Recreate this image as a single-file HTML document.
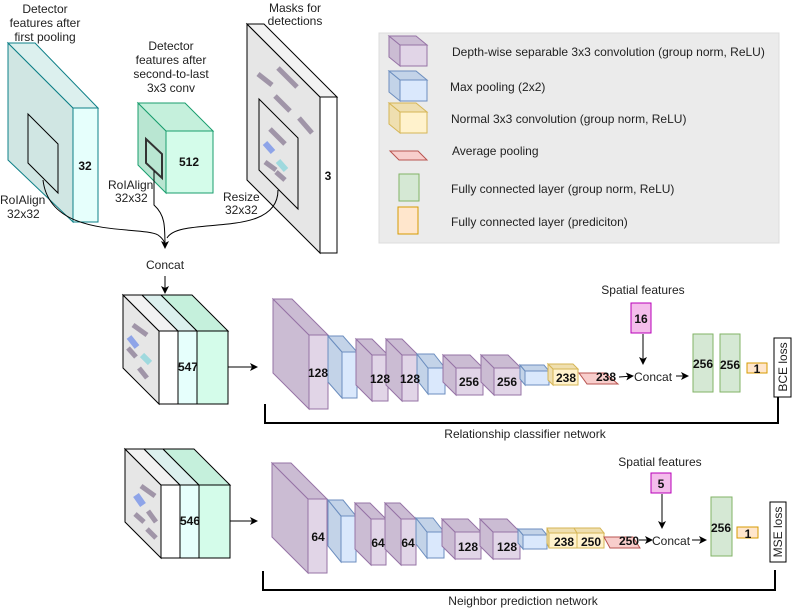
<!DOCTYPE html>
<html><head><meta charset="utf-8"><style>
body{margin:0;background:#fff}
svg{display:block;font-family:"Liberation Sans",sans-serif}
.t{font-size:12px;fill:#222}
.b{font-size:12px;font-weight:bold;fill:#111}
.P{stroke:#9673a6}.Pf{fill:#e1d5e7}.Ps{fill:#cbbcd3}
</style></head><body>
<svg width="792" height="611" viewBox="0 0 792 611" xmlns="http://www.w3.org/2000/svg">
<defs><marker id="ar" markerWidth="8" markerHeight="8" refX="7" refY="4" orient="auto" markerUnits="userSpaceOnUse"><path d="M0,0 L8,4 L0,8 L2,4 z" fill="#000"/></marker></defs>

<!-- Top: cyan block -->
<polygon points="8,43 73,108 73,222 8,160" fill="#d0e6e3" stroke="#0e8088"/>
<polygon points="8,43 35,43 98,108 73,108" fill="#dcf0ee" stroke="#0e8088"/>
<rect x="73" y="108" width="25" height="114" fill="#e6fffc" stroke="#0e8088"/>
<polygon points="28,114 58,144 58,193 28,163" fill="none" stroke="#000"/>
<text class="b" x="85" y="170" text-anchor="middle">32</text>
<text class="t" text-anchor="middle" x="45" y="13">Detector</text>
<text class="t" text-anchor="middle" x="45" y="27">features after</text>
<text class="t" text-anchor="middle" x="45" y="41">first pooling</text>

<!-- middle green block -->
<polygon points="138,103 166,131 166,193 138,165" fill="#b9e6d2" stroke="#1a9e6e"/>
<polygon points="138,103 185,103 213,131 166,131" fill="#c5f0dc" stroke="#1a9e6e"/>
<rect x="166" y="131" width="47" height="62" fill="#d4fcea" stroke="#1a9e6e"/>
<polygon points="146,139 162,154 162,178 146,163" fill="none" stroke="#333" stroke-width="2"/>
<text class="b" x="189" y="166" text-anchor="middle">512</text>
<text class="t" text-anchor="middle" x="171" y="50">Detector</text>
<text class="t" text-anchor="middle" x="171" y="64">features after</text>
<text class="t" text-anchor="middle" x="171" y="78">second-to-last</text>
<text class="t" text-anchor="middle" x="171" y="92">3x3 conv</text>

<!-- masks -->
<polygon points="247,24 320,97 320,253 247,180" fill="#e6e6e6" stroke="#000"/>
<polygon points="247,24 264,24 337,97 320,97" fill="#f2f2f2" stroke="#000"/>
<rect x="320" y="97" width="17" height="156" fill="#fff" stroke="#000"/>
<polygon points="259,99 298,138 298,209 259,170" fill="none" stroke="#000"/>
<g stroke="#a095a8" stroke-width="5">
<line x1="258" y1="74" x2="272" y2="85"/><line x1="278" y1="68" x2="297" y2="87"/>
<line x1="275" y1="96" x2="290" y2="111"/><line x1="299" y1="118" x2="312" y2="133"/>
<line x1="270" y1="129" x2="285" y2="144"/><line x1="265" y1="162" x2="276" y2="170"/>
<line x1="276" y1="172" x2="285" y2="180"/></g>
<line x1="265" y1="143" x2="273" y2="152" stroke="#8ea4e8" stroke-width="6"/>
<line x1="278" y1="161" x2="286" y2="170" stroke="#9fd9de" stroke-width="6"/>
<text class="b" x="328" y="180" text-anchor="middle">3</text>
<text class="t" text-anchor="middle" x="295" y="12">Masks for</text>
<text class="t" text-anchor="middle" x="295" y="25">detections</text>

<text class="t" x="0" y="204">RoIAlign</text><text class="t" x="7" y="218">32x32</text>
<text class="t" x="108" y="189">RoIAlign</text><text class="t" x="115" y="202">32x32</text>
<text class="t" x="223" y="201">Resize</text><text class="t" x="225" y="214">32x32</text>

<g fill="none" stroke="#000">
<path d="M43,180 C50,240 140,225 158,235 C165,240 165,244 165,248" marker-end="url(#ar)"/>
<path d="M154,171 L154,205 C165,215 165,225 165,248"/>
<path d="M278,190 C278,240 180,215 167,238"/>
<line x1="165" y1="276" x2="165" y2="293" marker-end="url(#ar)"/>
</g>
<text class="t" x="146" y="269">Concat</text>

<!-- legend -->
<rect x="379" y="33" width="400" height="210" fill="#ebebeb" stroke="#ddd"/>
<polygon points="389,36 400,45 400,66 389,57" class="Ps P"/><polygon points="389,36 416,36 427,45 400,45" class="Ps P"/><rect x="400" y="45" width="27" height="21" class="Pf P"/>
<polygon points="389,71 400,80 400,101 389,92" fill="#c3d3e8" stroke="#6c8ebf"/><polygon points="389,71 416,71 427,80 400,80" fill="#c3d3e8" stroke="#6c8ebf"/><rect x="400" y="80" width="27" height="21" fill="#dae8fc" stroke="#6c8ebf"/>
<polygon points="389,103 400,112 400,133 389,124" fill="#efdfb0" stroke="#d6b656"/><polygon points="389,103 416,103 427,112 400,112" fill="#efdfb0" stroke="#d6b656"/><rect x="400" y="112" width="27" height="21" fill="#fff2cc" stroke="#d6b656"/>
<polygon points="390,151 418,151 427,160 399,160" fill="#f8cecc" stroke="#b85450"/>
<rect x="399" y="174" width="20" height="27" fill="#d5e8d4" stroke="#82b366"/>
<rect x="398" y="207" width="20" height="27" fill="#ffe6cc" stroke="#d79b00"/>
<text class="t" x="452" y="56">Depth-wise separable 3x3 convolution  (group norm, ReLU)</text>
<text class="t" x="450" y="91">Max pooling (2x2)</text>
<text class="t" x="451" y="123">Normal 3x3 convolution (group norm, ReLU)</text>
<text class="t" x="452" y="155">Average pooling</text>
<text class="t" x="451" y="193">Fully connected layer (group norm, ReLU)</text>
<text class="t" x="451" y="226">Fully connected layer (prediciton)</text>

<!-- Relationship input block -->
<polygon points="123,295 159,331 159,404 123,368" fill="#e6e6e6" stroke="#000"/>
<polygon points="123,295 142,295 178,331 159,331" fill="#f2f2f2" stroke="#000"/>
<polygon points="142,295 161,295 197,331 178,331" fill="#dcf0ee" stroke="#000"/>
<polygon points="161,295 192,295 228,331 197,331" fill="#c5f0dc" stroke="#000"/>
<rect x="159" y="331" width="19" height="73" fill="#fff" stroke="#000"/>
<rect x="178" y="331" width="19" height="73" fill="#e6fffc" stroke="#000"/>
<rect x="197" y="331" width="31" height="73" fill="#d4fcea" stroke="#000"/>
<g stroke="#a095a8" stroke-width="5"><line x1="133" y1="325" x2="147" y2="335"/><line x1="128" y1="348" x2="136" y2="357"/><line x1="139" y1="368" x2="147" y2="378"/></g>
<line x1="129" y1="337" x2="137" y2="347" stroke="#8ea4e8" stroke-width="6"/>
<line x1="142" y1="355" x2="150" y2="363" stroke="#9fd9de" stroke-width="6"/>
<text class="b" x="188" y="371" text-anchor="middle">547</text>
<line x1="228" y1="367" x2="257" y2="367" stroke="#000" marker-end="url(#ar)"/>

<!-- Relationship network boxes -->
<g class="P">
<polygon points="273,299 309,335 309,409 273,373" class="Ps"/><polygon points="273,299 292,299 328,335 309,335" class="Ps"/><rect x="309" y="335" width="19" height="74" class="Pf"/>
</g>
<g stroke="#6c8ebf"><polygon points="328,336 342,352 342,398 328,382" fill="#c3d3e8"/><polygon points="328,336 343,336 357,352 342,352" fill="#c3d3e8"/><rect x="342" y="352" width="15" height="46" fill="#dae8fc"/></g>
<g class="P">
<polygon points="356,339 372,355 372,401 356,385" class="Ps"/><polygon points="356,339 372,339 388,355 372,355" class="Ps"/><rect x="372" y="355" width="16" height="46" class="Pf"/>
<polygon points="386,339 402,355 402,401 386,385" class="Ps"/><polygon points="386,339 402,339 418,355 402,355" class="Ps"/><rect x="402" y="355" width="16" height="46" class="Pf"/>
</g>
<g stroke="#6c8ebf"><polygon points="417,354 428,368 428,394 417,380" fill="#c3d3e8"/><polygon points="417,354 434,354 445,368 428,368" fill="#c3d3e8"/><rect x="428" y="368" width="17" height="26" fill="#dae8fc"/></g>
<g class="P">
<polygon points="443,355 456,368 456,395 443,382" class="Ps"/><polygon points="443,355 470,355 483,368 456,368" class="Ps"/><rect x="456" y="368" width="27" height="27" class="Pf"/>
<polygon points="481,355 494,368 494,395 481,382" class="Ps"/><polygon points="481,355 508,355 521,368 494,368" class="Ps"/><rect x="494" y="368" width="27" height="27" class="Pf"/>
</g>
<g stroke="#6c8ebf"><polygon points="520,365 525,371 525,385 520,379" fill="#c3d3e8"/><polygon points="520,365 544,365 549,371 525,371" fill="#c3d3e8"/><rect x="525" y="371" width="24" height="14" fill="#dae8fc"/></g>
<g stroke="#d6b656"><polygon points="548,364 553,369 553,385 548,380" fill="#efdfb0"/><polygon points="548,364 573,364 578,369 553,369" fill="#efdfb0"/><rect x="553" y="369" width="25" height="16" fill="#fff2cc"/></g>
<polygon points="579,373 605,373 618,384 587,384" fill="#f8cecc" stroke="#b85450"/>
<text class="b" x="318" y="377" text-anchor="middle">128</text>
<text class="b" x="380" y="383" text-anchor="middle">128</text>
<text class="b" x="410" y="383" text-anchor="middle">128</text>
<text class="b" x="469" y="386" text-anchor="middle">256</text>
<text class="b" x="507" y="386" text-anchor="middle">256</text>
<text class="b" x="566" y="382" text-anchor="middle">238</text>
<text class="b" x="606" y="381" text-anchor="middle">238</text>
<line x1="619" y1="377" x2="633" y2="376" stroke="#000" marker-end="url(#ar)"/>
<text class="t" x="634" y="381">Concat</text>
<line x1="676" y1="376" x2="688" y2="376" stroke="#000" marker-end="url(#ar)"/>
<text class="t" x="643" y="294" text-anchor="middle">Spatial features</text>
<rect x="631" y="303" width="20" height="30" fill="#f4bdeb" stroke="#b800b8"/>
<text class="b" x="641" y="323" text-anchor="middle">16</text>
<line x1="643" y1="334" x2="643" y2="364" stroke="#000" marker-end="url(#ar)"/>
<rect x="693" y="334" width="20" height="58" fill="#d5e8d4" stroke="#82b366"/>
<rect x="720" y="334" width="20" height="58" fill="#d5e8d4" stroke="#82b366"/>
<text class="b" x="703" y="368" text-anchor="middle">256</text>
<text class="b" x="730" y="369" text-anchor="middle">256</text>
<rect x="747" y="363" width="20" height="10" fill="#ffe6cc" stroke="#d79b00"/>
<text class="b" x="757" y="373" text-anchor="middle">1</text>
<rect x="774" y="338" width="17" height="59" fill="#fff" stroke="#000"/>
<text class="t" transform="translate(787,367) rotate(-90)" text-anchor="middle">BCE loss</text>
<polyline points="265,404 265,423 778,423 778,397" fill="none" stroke="#000" stroke-width="2"/>
<text class="t" x="525" y="438" text-anchor="middle">Relationship classifier network</text>

<!-- Neighbor input block -->
<polygon points="125,449 161,485 161,558 125,522" fill="#e6e6e6" stroke="#000"/>
<polygon points="125,449 144,449 180,485 161,485" fill="#f2f2f2" stroke="#000"/>
<polygon points="144,449 163,449 199,485 180,485" fill="#dcf0ee" stroke="#000"/>
<polygon points="163,449 194,449 230,485 199,485" fill="#c5f0dc" stroke="#000"/>
<rect x="161" y="485" width="19" height="73" fill="#fff" stroke="#000"/>
<rect x="180" y="485" width="19" height="73" fill="#e6fffc" stroke="#000"/>
<rect x="199" y="485" width="31" height="73" fill="#d4fcea" stroke="#000"/>
<g stroke="#a095a8" stroke-width="5"><line x1="141" y1="486" x2="155" y2="496"/><line x1="135" y1="514" x2="144" y2="522"/><line x1="148" y1="511" x2="156" y2="522"/><line x1="147" y1="529" x2="156" y2="538"/></g>
<line x1="136" y1="495" x2="143" y2="505" stroke="#8ea4e8" stroke-width="7"/>
<text class="b" x="190" y="525" text-anchor="middle">546</text>
<line x1="230" y1="521" x2="257" y2="521" stroke="#000" marker-end="url(#ar)"/>

<g class="P">
<polygon points="272,463 308,499 308,573 272,537" class="Ps"/><polygon points="272,463 291,463 327,499 308,499" class="Ps"/><rect x="308" y="499" width="19" height="74" class="Pf"/>
</g>
<g stroke="#6c8ebf"><polygon points="328,500 341,516 341,562 328,546" fill="#c3d3e8"/><polygon points="328,500 343,500 356,516 341,516" fill="#c3d3e8"/><rect x="341" y="516" width="15" height="46" fill="#dae8fc"/></g>
<g class="P">
<polygon points="355,503 371,519 371,565 355,549" class="Ps"/><polygon points="355,503 370,503 386,519 371,519" class="Ps"/><rect x="371" y="519" width="15" height="46" class="Pf"/>
<polygon points="385,503 401,519 401,565 385,549" class="Ps"/><polygon points="385,503 400,503 416,519 401,519" class="Ps"/><rect x="401" y="519" width="15" height="46" class="Pf"/>
</g>
<g stroke="#6c8ebf"><polygon points="416,518 427,532 427,558 416,544" fill="#c3d3e8"/><polygon points="416,518 433,518 444,532 427,532" fill="#c3d3e8"/><rect x="427" y="532" width="17" height="26" fill="#dae8fc"/></g>
<g class="P">
<polygon points="442,519 455,532 455,559 442,546" class="Ps"/><polygon points="442,519 468,519 481,532 455,532" class="Ps"/><rect x="455" y="532" width="26" height="27" class="Pf"/>
<polygon points="480,519 493,532 493,559 480,546" class="Ps"/><polygon points="480,519 507,519 520,532 493,532" class="Ps"/><rect x="493" y="532" width="27" height="27" class="Pf"/>
</g>
<g stroke="#6c8ebf"><polygon points="518,529 523,535 523,549 518,543" fill="#c3d3e8"/><polygon points="518,529 542,529 547,535 523,535" fill="#c3d3e8"/><rect x="523" y="535" width="24" height="14" fill="#dae8fc"/></g>
<g stroke="#d6b656"><polygon points="547,528 549,533 549,548 547,543" fill="#efdfb0"/><polygon points="547,528 574,528 577,533 549,533" fill="#efdfb0"/><rect x="549" y="533" width="28" height="15" fill="#fff2cc"/>
<polygon points="574,528 600,528 604,533 577,533" fill="#efdfb0"/><rect x="577" y="533" width="27" height="15" fill="#fff2cc"/></g>
<polygon points="604,537 633,537 640,548 610,548" fill="#f8cecc" stroke="#b85450"/>
<text class="b" x="318" y="541" text-anchor="middle">64</text>
<text class="b" x="378" y="547" text-anchor="middle">64</text>
<text class="b" x="408" y="547" text-anchor="middle">64</text>
<text class="b" x="468" y="551" text-anchor="middle">128</text>
<text class="b" x="507" y="551" text-anchor="middle">128</text>
<text class="b" x="564" y="546" text-anchor="middle">238</text>
<text class="b" x="591" y="546" text-anchor="middle">250</text>
<text class="b" x="629" y="545" text-anchor="middle">250</text>
<line x1="639" y1="540" x2="652" y2="540" stroke="#000" marker-end="url(#ar)"/>
<text class="t" x="652" y="545">Concat</text>
<line x1="692" y1="540" x2="706" y2="540" stroke="#000" marker-end="url(#ar)"/>
<text class="t" x="660" y="466" text-anchor="middle">Spatial features</text>
<rect x="651" y="473" width="20" height="20" fill="#f4bdeb" stroke="#b800b8"/>
<text class="b" x="661" y="488" text-anchor="middle">5</text>
<line x1="662" y1="494" x2="662" y2="528" stroke="#000" marker-end="url(#ar)"/>
<rect x="711" y="497" width="21" height="59" fill="#d5e8d4" stroke="#82b366"/>
<text class="b" x="721" y="532" text-anchor="middle">256</text>
<rect x="737" y="527" width="21" height="11" fill="#ffe6cc" stroke="#d79b00"/>
<text class="b" x="748" y="538" text-anchor="middle">1</text>
<rect x="770" y="502" width="16" height="60" fill="#fff" stroke="#000"/>
<text class="t" transform="translate(782,532) rotate(-90)" text-anchor="middle">MSE loss</text>
<polyline points="263,571 263,590 775,590 775,570" fill="none" stroke="#000" stroke-width="2"/>
<text class="t" x="523" y="605" text-anchor="middle">Neighbor prediction network</text>
</svg>
</body></html>
